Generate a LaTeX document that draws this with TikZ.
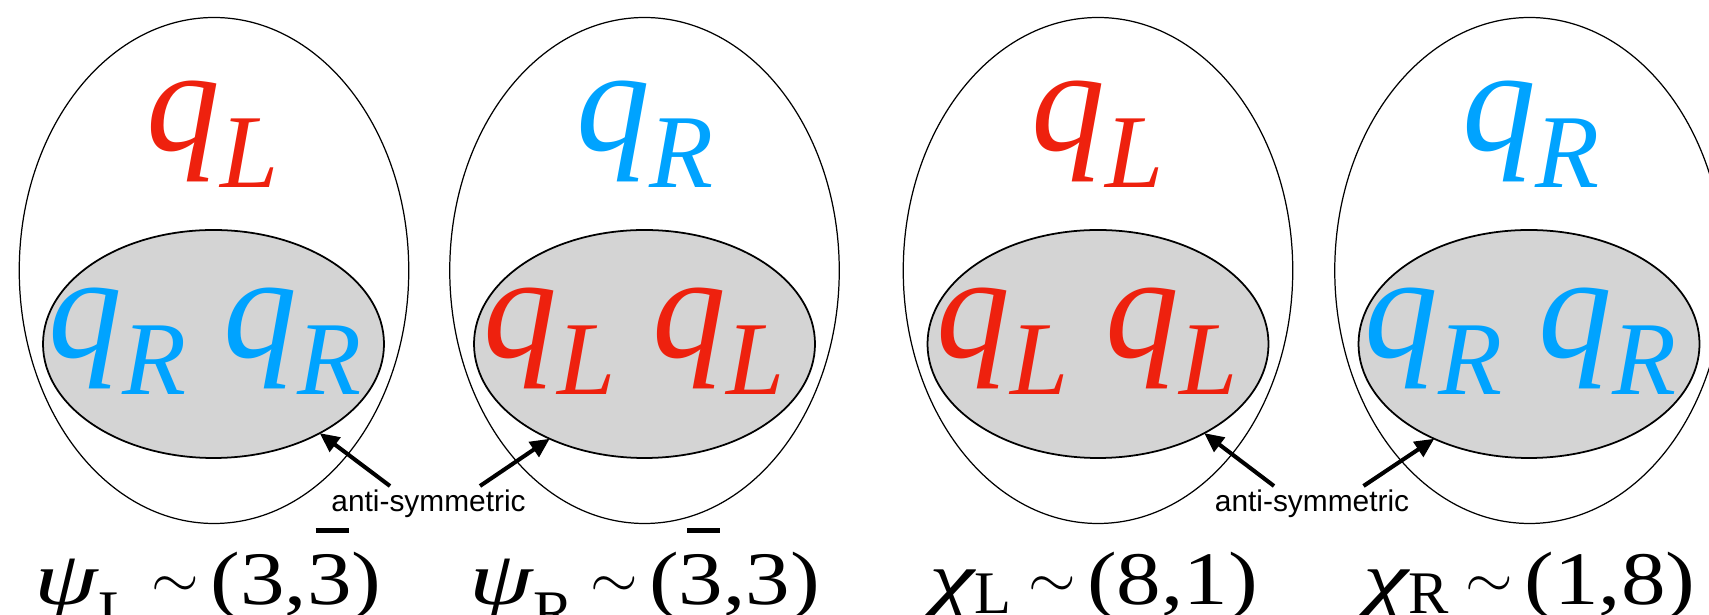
\documentclass[tikz,border=0pt]{standalone}
\usepackage{fontspec}
\setmainfont{Liberation Serif}
\setsansfont{Liberation Sans}
\usepackage{graphicx}
\usetikzlibrary{shapes.geometric,arrows.meta}

\definecolor{qred}{RGB}{238,33,14}
\definecolor{qblue}{RGB}{0,163,255}
\definecolor{pairgray}{RGB}{212,212,212}

\newcommand{\qsub}[1]{\textit{q\raisebox{-0.245em}{\scalebox{0.71}{#1}}}}
\newcommand{\barthree}{\ooalign{3\cr\hidewidth\kern0.06em\rule[0.95em]{0.37em}{0.07em}\hidewidth\cr}}
\newcommand{\rep}[4]{\scalebox{1.35}[1]{\itshape #1}\raisebox{#2}{\scalebox{0.8}{#3}}\kern0.22em
  \raisebox{0.1em}{\scalebox{1.4}[1.3]{$\sim$}}\kern0.15em\scalebox{1.18}[1]{(#4)}}

\tikzset{
  outer/.style={draw, ellipse, minimum width=7.79cm, minimum height=10.12cm,
    inner sep=0pt, outer sep=0pt, line width=0.7pt},
  pair/.style={draw, ellipse, fill=pairgray, minimum width=6.82cm, minimum height=4.56cm,
    inner sep=0pt, outer sep=0pt, line width=1pt},
  quark/.style={anchor=base, inner sep=0pt, font=\fontsize{84}{84}\selectfont},
  repr/.style={anchor=base, inner sep=0pt, font=\fontsize{43}{43}\selectfont},
  note/.style={anchor=base, inner sep=0pt, font=\sffamily\fontsize{17}{17}\selectfont},
  pointer/.style={-{Triangle[length=11pt,width=10pt]}, line width=2.3pt}
}

\begin{document}
\begin{tikzpicture}

\useasboundingbox (0,0) rectangle (34.18,12.3);
\clip (0,0) rectangle (34.18,12.3);

% --- psi_L and psi_R ---
\node[outer] (psiL) at (4.28,6.89) {};
\node[pair] (pairL) at (4.27,5.42) {};
\node[quark, qred] (topL) at (4.25,9.28) {\qsub{L}};
\node[quark, qblue] (inL) at (4.10,5.14) {\qsub{R} \qsub{R}};
\node[repr] (repL) at (4.16,0.20) {\rep{ψ}{-0.37em}{L}{3,\barthree}};

\node[outer] (psiR) at (12.89,6.89) {};
\node[pair] (pairR) at (12.89,5.42) {};
\node[quark, qblue] (topR) at (12.90,9.28) {\qsub{R}};
\node[quark, qred] (inR) at (12.68,5.14) {\qsub{L} \qsub{L}};
\node[repr] (repR) at (12.90,0.20) {\rep{ψ}{-0.37em}{R}{\barthree,3}};

\node[note] (anti1) at (8.57,2.07) {anti-symmetric};
\coordinate (s1) at (7.80,2.58);
\coordinate (s2) at (9.60,2.58);
\draw[pointer] (s1) -- (pairL.-40.5);
\draw[pointer] (s2) -- (pairR.-135.7);

% --- chi_L and chi_R ---
\node[outer] (chiL) at (21.96,6.89) {};
\node[pair] (pairCL) at (21.96,5.42) {};
\node[quark, qred] (topCL) at (21.96,9.28) {\qsub{L}};
\node[quark, qred] (inCL) at (21.75,5.14) {\qsub{L} \qsub{L}};
\node[repr] (repCL) at (21.88,0.20) {\rep{χ}{-0.11em}{L}{8,1}};

\node[outer] (chiR) at (30.59,6.89) {};
\node[pair] (pairCR) at (30.58,5.42) {};
\node[quark, qblue] (topCR) at (30.62,9.28) {\qsub{R}};
\node[quark, qblue] (inCR) at (30.41,5.14) {\qsub{R} \qsub{R}};
\node[repr] (repCR) at (30.59,0.20) {\rep{χ}{-0.11em}{R}{1,8}};

\node[note] (anti2) at (26.24,2.07) {anti-symmetric};
\coordinate (s3) at (25.48,2.58);
\coordinate (s4) at (27.27,2.58);
\draw[pointer] (s3) -- (pairCL.-40);
\draw[pointer] (s4) -- (pairCR.-135.9);

\end{tikzpicture}
\end{document}
